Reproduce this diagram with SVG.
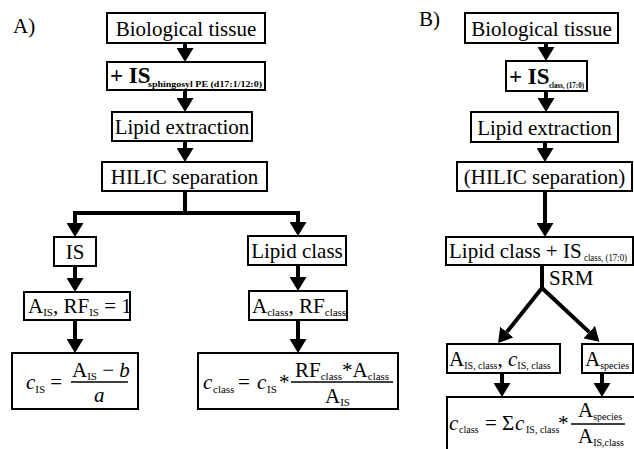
<svg xmlns="http://www.w3.org/2000/svg" width="634" height="449" viewBox="0 0 634 449">
<style>
text{font-family:'Liberation Serif','Times New Roman',serif;fill:#000;font-size:21px}
.box{fill:#fff;stroke:#000;stroke-width:2}
.c{text-anchor:middle}
.b{font-weight:bold;font-size:23px}
.bs{font-weight:bold;font-size:9px}
.s{font-size:11px}
.s10{font-size:10px}
.i{font-style:italic}
.con path{fill:none;stroke:#000;stroke-width:4}
.con .ar{marker-end:url(#ah)}
.fl{stroke:#000;stroke-width:1.3}
</style>
<defs>
<marker id="ah" markerUnits="userSpaceOnUse" markerWidth="14" markerHeight="17" viewBox="0 0 14 17" refX="0" refY="8.5" orient="auto">
<path d="M0,0 L14,8.5 L0,17 z" fill="#000"/>
</marker>
</defs>
<rect width="634" height="449" fill="#fff"/>

<text x="13" y="33">A)</text>
<text x="419" y="26" font-size="20">B)</text>

<g class="con" id="connectors">
<path class="ar" d="M185,43 V48"/>
<path class="ar" d="M185,90 V98"/>
<path class="ar" d="M185,141 V148"/>
<path d="M185,191 V213 M73,213 H300"/>
<path class="ar" d="M75,211 V223"/>
<path class="ar" d="M298,211 V222"/>
<path class="ar" d="M75,266 V278"/>
<path class="ar" d="M75,320 V339"/>
<path class="ar" d="M298,265 V277"/>
<path class="ar" d="M298,320 V339"/>
<path class="ar" d="M546,43 V47"/>
<path class="ar" d="M546,91 V98"/>
<path class="ar" d="M545,142 V148"/>
<path class="ar" d="M545,191 V223"/>
<path d="M542,265 V288"/>
<path class="ar" d="M542,288 L506.8,332.1"/>
<path class="ar" d="M542,288 L589.2,332.1"/>
<path class="ar" d="M502,373 V383"/>
<path class="ar" d="M602,373 V383"/>
</g>

<g id="a-tissue">
<rect class="box" x="107" y="13" width="158" height="30"/>
<text class="c" x="186" y="36">Biological tissue</text>
</g>
<g id="a-is">
<rect class="box" x="107" y="62" width="158" height="28"/>
<text class="b" x="110" y="83">+ IS</text>
<text class="bs" x="148" y="87" textLength="114" lengthAdjust="spacingAndGlyphs">sphingosyl PE (d17:1/12:0)</text>
</g>
<g id="a-extraction">
<rect class="box" x="112" y="112" width="140" height="29"/>
<text class="c" x="182" y="134">Lipid extraction</text>
</g>
<g id="a-hilic">
<rect class="box" x="102" y="162" width="165" height="29"/>
<text class="c" x="184.5" y="184">HILIC separation</text>
</g>
<g id="a-isbox">
<rect class="box" x="54" y="237" width="42" height="29"/>
<text class="c" x="75" y="259">IS</text>
</g>
<g id="a-ais">
<rect class="box" x="24" y="292" width="106" height="28"/>
<text x="28" y="313" font-size="20">A<tspan class="s" dy="3">IS</tspan><tspan dy="-3">, RF</tspan><tspan class="s" dy="3">IS</tspan><tspan dy="-3"> = 1</tspan></text>
</g>
<g id="a-cis">
<rect class="box" x="12" y="353" width="126" height="56"/>
<text x="26" y="389"><tspan class="i">c</tspan><tspan class="s" dy="4">IS</tspan><tspan dy="-4"> =</tspan></text>
<text x="72" y="377">A<tspan class="s" dy="3">IS</tspan><tspan dy="-3"> − </tspan><tspan class="i">b</tspan></text>
<path class="fl" d="M71,382 H128"/>
<text class="i" x="94" y="402">a</text>
</g>
<g id="a-lipidclass">
<rect class="box" x="248" y="236" width="98" height="29"/>
<text class="c" x="297" y="258">Lipid class</text>
</g>
<g id="a-aclass">
<rect class="box" x="249" y="291" width="98" height="29"/>
<text x="252" y="313" font-size="20">A<tspan class="s" dy="3">class</tspan><tspan dy="-3">, RF</tspan><tspan class="s" dy="3">class</tspan></text>
</g>
<g id="a-cclass">
<rect class="box" x="198" y="353" width="200" height="56"/>
<text y="389"><tspan class="i" x="203">c</tspan><tspan class="s" x="213" dy="4">class</tspan><tspan x="238" dy="-4">=</tspan><tspan class="i" x="257">c</tspan><tspan class="s" x="267" dy="4">IS</tspan><tspan x="279" dy="-4">*</tspan></text>
<text x="295" y="377" font-size="20">RF<tspan class="s" dy="3">class</tspan><tspan dy="-3">*A</tspan><tspan class="s" dy="3">class</tspan></text>
<path class="fl" d="M291,382 H393"/>
<text x="325" y="403" font-size="20">A<tspan class="s" dy="3">IS</tspan></text>
</g>

<g id="b-tissue">
<rect class="box" x="465" y="13" width="153" height="30"/>
<text class="c" x="541.5" y="36">Biological tissue</text>
</g>
<g id="b-is">
<rect class="box" x="506" y="61" width="81" height="30"/>
<text class="b" x="509" y="84">+ IS</text>
<text class="bs" x="549" y="88" font-size="8" textLength="35" lengthAdjust="spacingAndGlyphs">class, (17:0)</text>
</g>
<g id="b-extraction">
<rect class="box" x="471" y="112" width="147" height="30"/>
<text class="c" x="544.5" y="135">Lipid extraction</text>
</g>
<g id="b-hilic">
<rect class="box" x="457" y="162" width="175" height="29"/>
<text class="c" x="544.5" y="184">(HILIC separation)</text>
</g>
<g id="b-lipidclass">
<rect class="box" x="446" y="237" width="187" height="28"/>
<text x="449" y="258" font-size="20.5">Lipid class + IS</text>
<text class="s10" x="584" y="261" textLength="43" lengthAdjust="spacingAndGlyphs">class, (17:0)</text>
</g>
<text x="549" y="285">SRM</text>
<g id="b-ais">
<rect class="box" x="447" y="344" width="113" height="29"/>
<text x="449" y="366">A<tspan class="s10" dy="3">IS, class</tspan><tspan dy="-3">, </tspan><tspan class="i">c</tspan><tspan class="s10" dy="3">IS, class</tspan></text>
</g>
<g id="b-aspecies">
<rect class="box" x="582" y="344" width="51" height="29"/>
<text x="585" y="366">A<tspan class="s10" dy="3">species</tspan></text>
</g>
<g id="b-cclass">
<rect class="box" x="447" y="397" width="190" height="60"/>
<text y="430"><tspan class="i" x="449">c</tspan><tspan class="s10" x="459" dy="3">class</tspan><tspan x="485" dy="-3">=</tspan><tspan x="502">Σ</tspan><tspan class="i" x="515">c</tspan><tspan class="s10" x="526" dy="3" font-size="9.5">IS, class</tspan><tspan x="558" dy="-3">*</tspan></text>
<text x="578" y="417">A<tspan class="s10" dy="3">species</tspan></text>
<path class="fl" d="M571,424 H625"/>
<text x="578" y="443">A<tspan class="s10" dy="3">IS,class</tspan></text>
</g>
</svg>
